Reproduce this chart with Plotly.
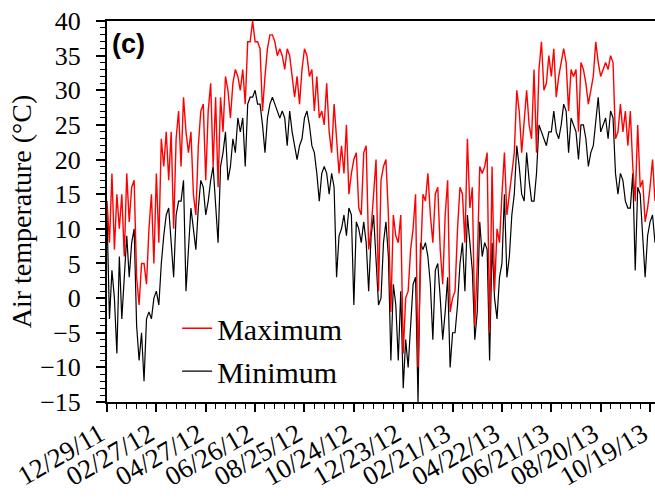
import pandas as pd
import plotly.graph_objects as go

start_date = "2011-12-29"
step_days = 3

tmax = [
    14, 8, 18, 7, 15, 10, 15, 6, 18, 11,
    16, 17, 3, -1, 5, 5, 2, 10, 15, 5,
    18, 8, 23, 19, 24, 17, 24, 10, 23, 27,
    19, 29, 24, 21, 24, 15, 12, 22, 27, 28,
    17, 27, 31, 19, 29, 16, 29, 24, 32, 30,
    26, 31, 33, 32, 30, 33, 28, 37, 37, 40,
    37, 37, 36, 27, 32, 36, 38, 38, 37, 35,
    36, 35, 33, 36, 35, 32, 29, 32, 28, 33,
    36, 35, 32, 33, 27, 32, 26, 27, 25, 31,
    24, 21, 28, 23, 18, 22, 18, 25, 15, 18,
    20, 21, 13, 12, 21, 22, 7, 10, 15, 20,
    1, 17, 19, 20, 12, -2, 12, 9, 8, 12,
    -8, 0, 1, 7, 10, 15, -10, 5, 15, 14,
    18, 12, 8, 15, 16, 7, 2, 12, 17, -2,
    0, 1, 10, 16, 15, 8, 23, 13, 16, -4,
    5, 19, 18, 19, 21, -5, 19, 1, 10, 8,
    15, 21, 12, 15, 18, 21, 30, 27, 21, 26,
    30, 25, 23, 33, 21, 33, 37, 30, 31, 35,
    32, 36, 29, 32, 34, 36, 34, 27, 33, 32,
    33, 24, 34, 33, 31, 28, 30, 32, 37, 34,
    32, 33, 34, 33, 35, 34, 23, 24, 28, 24,
    27, 22, 27, 19, 14, 25, 16, 17, 11, 13,
    16, 20, 14,
]

tmin = [
    12, -3, 4, 0, -8, 6, -3, 4, 9, 3,
    8, 10, -4, -9, -5, -12, -3, -2, -3, 0,
    1, -1, 5, 9, 12, 13, 8, 3, 12, 14,
    14, 17, 1, 7, 13, 10, 7, 13, 17, 16,
    12, 14, 17, 19, 14, 8, 19, 21, 24, 17,
    19, 23, 21, 26, 24, 26, 19, 28, 29, 29,
    30, 28, 28, 25, 21, 26, 28, 29, 28, 27,
    26, 27, 26, 22, 27, 24, 22, 20, 22, 23,
    26, 27, 25, 22, 21, 18, 14, 18, 19, 18,
    15, 18, 16, 3, 9, 10, 12, 9, 13, 12,
    -1, 11, 10, 8, 11, 8, 1, 9, 12, 5,
    -1, 0, 8, 11, 6, -9, 2, -1, -9, 1,
    -13, -6, -10, -4, 2, 3, -15, 8, 7, 8,
    6, 2, -6, 4, 5, 0, -6, -2, 3, -10,
    -5, -5, -1, 5, 8, 1, 12, 8, 4, -6,
    -2, 11, 6, 8, 7, -9, 8, 0, -3, 3,
    5, 15, 3, 6, 12, 15, 22, 19, 15, 14,
    21, 17, 14, 14, 18, 25, 24, 23, 22, 24,
    24, 27, 24, 23, 25, 28, 27, 21, 26, 25,
    24, 20, 25, 25, 23, 19, 21, 22, 26, 29,
    24, 25, 26, 23, 27, 26, 18, 15, 18, 17,
    14, 13, 13, 18, 4, 16, 15, 9, 3, 9,
    11, 12, 8,
]

tick_dates = ["2011-12-29", "2012-02-27", "2012-04-27", "2012-06-26",
              "2012-08-25", "2012-10-24", "2012-12-23", "2013-02-21",
              "2013-04-22", "2013-06-21", "2013-08-20", "2013-10-19"]
tick_labels = ["12/29/11", "02/27/12", "04/27/12", "06/26/12", "08/25/12",
               "10/24/12", "12/23/12", "02/21/13", "04/22/13", "06/21/13",
               "08/20/13", "10/19/13"]

dates = pd.date_range(start_date, periods=len(tmax), freq=f"{step_days}D")

serif = "Liberation Serif"

fig = go.Figure()
fig.add_trace(go.Scatter(x=dates, y=tmin, mode="lines", name="Minimum",
                         line=dict(color="#000000", width=1.2),
                         legendgroup="b", legendrank=2))
fig.add_trace(go.Scatter(x=dates, y=tmax, mode="lines", name="Maximum",
                         line=dict(color="#FF0000", width=1.4),
                         legendgroup="a", legendrank=1))

fig.update_layout(
    width=655, height=502,
    margin=dict(l=107, r=0, t=21, b=100, autoexpand=False),
    paper_bgcolor="white", plot_bgcolor="white",
    font=dict(family=serif, size=26, color="black"),
    showlegend=True,
    legend=dict(x=0.128, y=0.262, xanchor="left", yanchor="top",
                bgcolor="rgba(0,0,0,0)", font=dict(family=serif, size=30),
                tracegroupgap=1, itemwidth=30),
    annotations=[dict(text="<b>(c)</b>", xref="paper", yref="paper",
                      x=0.006, y=0.985, xanchor="left", yanchor="top",
                      showarrow=False,
                      font=dict(family="Liberation Sans", size=27,
                                color="black"))],
)

fig.update_xaxes(
    type="date", range=["2011-12-29", "2013-10-25"],
    tickvals=tick_dates, ticktext=tick_labels, tickangle=-30,
    ticks="outside", ticklen=8, tickwidth=1.5, tickcolor="black",
    showline=True, linecolor="black", linewidth=2, mirror=True,
    showgrid=False, zeroline=False, automargin=False,
    ticklabeloverflow="allow", ticklabelstandoff=-4, ticklabelshift=-7,
    tickfont=dict(family=serif, size=27),
    minor=dict(dtick=12 * 86400000, tick0="2011-12-29", ticks="outside",
               ticklen=5, tickwidth=1.2, tickcolor="black", showgrid=False),
)
fig.update_yaxes(
    range=[-15, 40], dtick=5, tick0=-15,
    ticks="outside", ticklen=9, tickwidth=1.5, tickcolor="black",
    showline=True, linecolor="black", linewidth=2,
    showgrid=False, zeroline=False, automargin=False,
    tickfont=dict(family=serif, size=26), ticklabelstandoff=10,
    title=dict(text="Air temperature (°C)", font=dict(family=serif, size=28),
               standoff=0),
    minor=dict(dtick=1, ticks="outside", ticklen=5, tickwidth=1.2,
               tickcolor="black", showgrid=False),
)

fig.write_html("out.html", config={"displayModeBar": False},
               post_script="document.body.style.margin='0';")
